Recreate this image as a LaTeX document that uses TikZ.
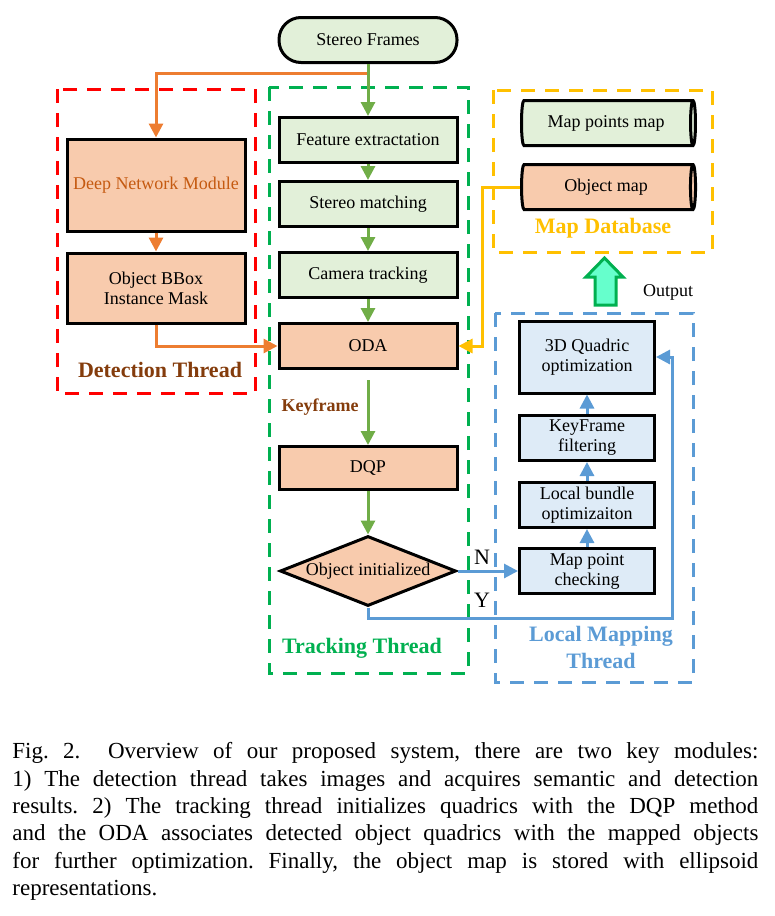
\documentclass[tikz,border=0pt]{standalone}
\usepackage{fontspec}
\setmainfont{Liberation Serif}
\usepackage{xcolor}
\usetikzlibrary{arrows.meta,shapes.geometric}
\definecolor{lgreen}{HTML}{E2F0D9}
\definecolor{lorange}{HTML}{F8CBAD}
\definecolor{lblue}{HTML}{DEEBF7}
\definecolor{aorange}{HTML}{ED7D31}
\definecolor{agreen}{HTML}{70AD47}
\definecolor{ablue}{HTML}{5B9BD5}
\definecolor{ayellow}{HTML}{FFC000}
\definecolor{tgreen}{HTML}{00B050}
\definecolor{tbrown}{HTML}{843C0C}
\definecolor{dnmtext}{HTML}{C55A11}
\definecolor{mint}{HTML}{66FFCC}

\begin{document}
\begin{tikzpicture}[x=0.5pt,y=-0.5pt]
        \tikzset{box/.style={draw,line width=1.5pt,minimum width=89pt,minimum height=22.5pt,
                inner sep=1pt,align=center,font=\fontsize{9}{10}\selectfont},
            gbox/.style={box,fill=lgreen},
            obox/.style={box,fill=lorange},
            bbox/.style={box,fill=lblue,minimum width=67.5pt},
            dbcyl/.style={draw,line width=1.5pt,cylinder,aspect=0.25,minimum width=22.5pt,
                minimum height=87pt,inner sep=1pt,font=\fontsize{9}{10}\selectfont},
            frame/.style={line width=1.5pt,dash pattern=on 7pt off 5pt},
            title/.style={font=\fontsize{11}{13.5}\selectfont\bfseries,align=center},
            tip/.style={-{Triangle[length=7pt,width=7pt]}},
            oarrow/.style={draw=aorange,line width=1.5pt,tip},
            garrow/.style={draw=agreen,line width=1.5pt,tip},
            barrow/.style={draw=ablue,line width=1.5pt,tip},
            yarrow/.style={draw=ayellow,line width=1.5pt,tip}}
        \useasboundingbox (0,0) rectangle (775,916);
        % thread frames
        \draw[frame,red] (57,89) rectangle (255,393);
        \draw[frame,tgreen] (269,87) rectangle (468,673);
        \draw[frame,ablue] (495,313) rectangle (693,682);
        \draw[frame,ayellow] (493,90) rectangle (712,252);
        % tracking
        \node[gbox,rounded corners=11pt] (frames) at (368,40) {Stereo Frames};
        \node[gbox] (feat) at (368,140) {Feature extractation};
        \node[gbox] (match) at (368,204) {Stereo matching};
        \node[gbox] (track) at (368,275) {Camera tracking};
        \node[obox] (oda) at (368,346) {ODA};
        \node[obox,minimum height=21.5pt] (dqp) at (368,468) {DQP};
        \node[obox,diamond,aspect=2.5,inner sep=0pt,minimum width=88pt,minimum height=35pt]
            (init) at (368,571) {Object initialized};
        % detection
        \node[obox,minimum height=46pt,text=dnmtext] (dnm) at (156,185) {Deep Network Module};
        \node[obox,minimum height=35pt] (bboxes) at (156,288) {Object BBox\\Instance Mask};
        % local mapping
        \node[bbox] (mpc) at (587,571) {Map point\\checking};
        \node[bbox] (lba) at (587,505) {Local bundle\\optimizaiton};
        \node[bbox] (kff) at (587,438) {KeyFrame\\filtering};
        \node[bbox,minimum height=36pt] (quad) at (587,357) {3D Quadric\\optimization};
        % map database
        \node[dbcyl,fill=lgreen] (mpm) at (606,123) {Map points map};
        \node[dbcyl,fill=lorange] (objmap) at (606,187) {Object map};
        % labels
        \node[title,text=tbrown] (dtitle) at (160,370) {Detection Thread};
        \node[title,text=tgreen] (ttitle) at (362,648) {Tracking Thread};
        \node[title,text=ablue] (ltitle) at (601,647) {Local Mapping\\Thread};
        \node[title,text=ayellow] (mtitle) at (603,228) {Map Database};
        \node[font=\fontsize{9}{10}\selectfont\bfseries,text=tbrown] (kf) at (320,407) {Keyframe};
        \node[font=\fontsize{9}{10}\selectfont] (out) at (668,292) {Output};
        \node[font=\fontsize{11}{12}\selectfont] (no) at (482,557) {N};
        \node[font=\fontsize{11}{12}\selectfont] (yes) at (482,600) {Y};
        \coordinate (split) at (368,73);
        \coordinate (ybend) at (482,187);
        \coordinate (loopc) at (672,618);
        % connectors
        \draw[oarrow] (frames.south) -- (split) -| (dnm.north);
        \draw[oarrow] (dnm) -- (bboxes);
        \draw[oarrow] (bboxes.south) |- (oda.west);
        \draw[garrow] (frames) -- (feat);
        \draw[garrow] (feat) -- (match);
        \draw[garrow] (match) -- (track);
        \draw[garrow] (track) -- (oda);
        \draw[garrow,shorten <=5pt] (oda) -- (dqp);
        \draw[garrow] (dqp) -- (init);
        \draw[yarrow] (objmap.west) -- (ybend) |- (oda.east);
        \draw[barrow] (init.east) -- (mpc.west);
        \draw[barrow] (mpc) -- (lba);
        \draw[barrow] (lba) -- (kff);
        \draw[barrow] (kff) -- (quad);
        \draw[barrow] (init.south) |- (loopc) |- (quad.east);
        % output arrow
        \draw[tgreen,fill=mint,line width=1.5pt,line join=miter]
            (595,305) -- (595,277) -- (586,277) -- (604.5,258) -- (623,277)
            -- (616,277) -- (616,305) -- cycle;
        % caption
        \node[anchor=north west,inner sep=0pt,text width=373pt,align=justify,
            font=\fontsize{11.5}{13.7}\selectfont\frenchspacing] (caption) at (12,742)
            {Fig.~2.\hspace{1.2em}Overview of our proposed system, there are two key modules:\linebreak
            1) The detection thread takes images and acquires semantic and detection\linebreak
            results. 2) The tracking thread initializes quadrics with the DQP method\linebreak
            and the ODA associates detected object quadrics with the mapped objects\linebreak
            for further optimization. Finally, the object map is stored with ellipsoid\linebreak
            representations.};
    \end{tikzpicture}
\end{document}
